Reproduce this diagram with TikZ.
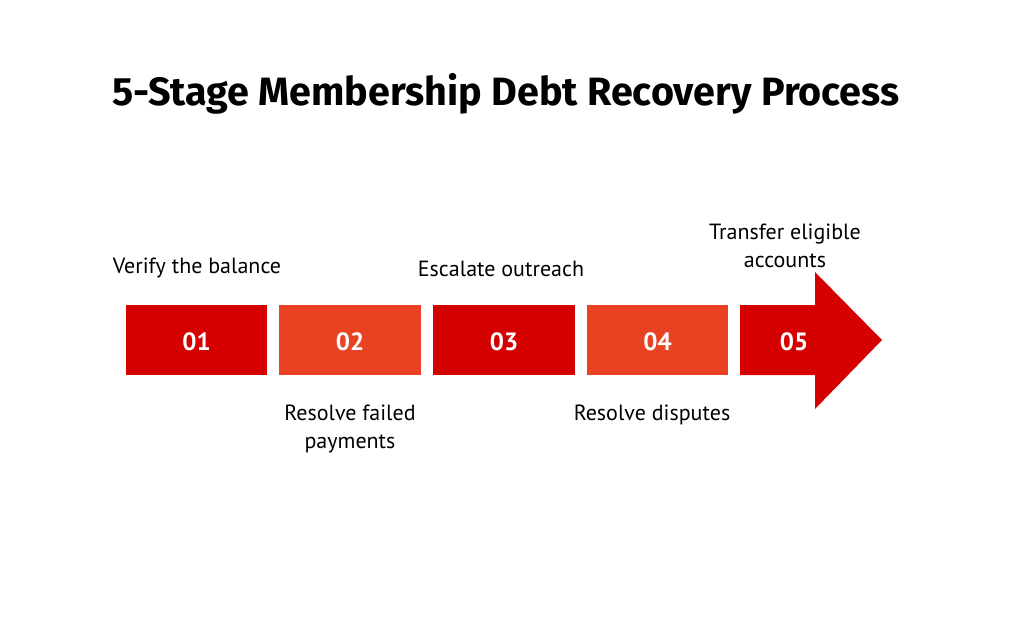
\documentclass[tikz,border=0pt]{standalone}
\usepackage{fontspec}
\setmainfont{PT Sans}
\newfontfamily\titlefont{Fira Sans}
\begin{document}
\begin{tikzpicture}[x=1pt,y=-1pt,
  stagebox/.style={minimum width=142pt,minimum height=70pt,inner sep=0pt,text=white,font=\fontsize{25}{28}\selectfont\bfseries},
  lbl/.style={align=center,font=\fontsize{22}{28}\selectfont,text=black}]
\definecolor{darkred}{HTML}{D50000}
\definecolor{orangered}{HTML}{E94222}
\useasboundingbox (0,0) rectangle (1012,618);
\node[anchor=base west,inner sep=0pt,font=\titlefont\fontsize{39.5}{44}\selectfont\bfseries] (title) at (112,105) {5-Stage Membership Debt Recovery Process};
\fill[darkred] (126,305) rectangle (267,375);
\fill[orangered] (279,305) rectangle (421,375);
\fill[darkred] (433,305) rectangle (575,375);
\fill[orangered] (587,305) rectangle (728,375);
\fill[darkred] (740,305) -- (815,305) -- (815,272) -- (882,340) -- (815,409) -- (815,375) -- (740,375) -- cycle;
\node[text=white,font=\fontsize{25}{28}\selectfont\bfseries] (s1) at (196.5,342) {01};
\node[text=white,font=\fontsize{25}{28}\selectfont\bfseries] (s2) at (350,342) {02};
\node[text=white,font=\fontsize{25}{28}\selectfont\bfseries] (s3) at (504,342) {03};
\node[text=white,font=\fontsize{25}{28}\selectfont\bfseries] (s4) at (657.5,342) {04};
\node[text=white,font=\fontsize{25}{28}\selectfont\bfseries] (s5) at (794,342) {05};
\node[lbl] (l1) at (197,268) {Verify the balance};
\node[lbl] (l2) at (350,429) {Resolve failed\\payments};
\node[lbl] (l3) at (501,269) {Escalate outreach};
\node[lbl] (l4) at (652,415) {Resolve disputes};
\node[lbl] (l5) at (785,246) {Transfer eligible\\accounts};
\end{tikzpicture}
\end{document}
